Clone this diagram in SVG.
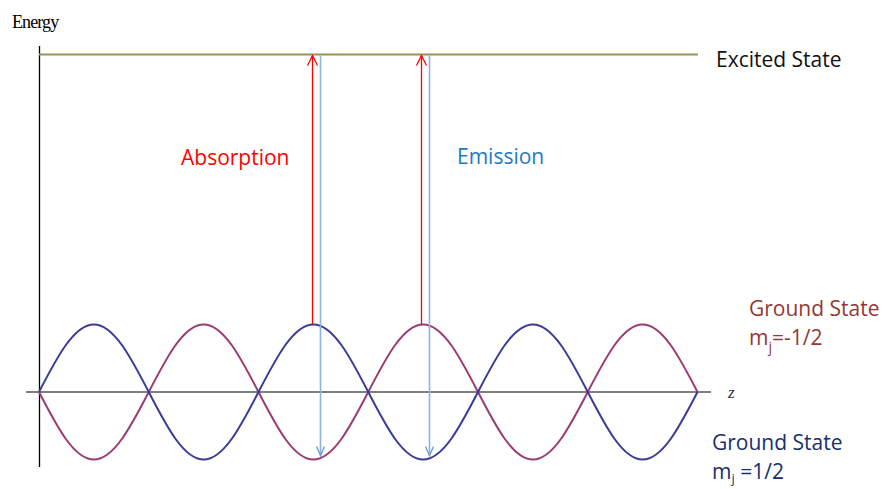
<svg xmlns="http://www.w3.org/2000/svg" width="886" height="489" viewBox="0 0 886 489">
<style>
.lbl{font-family:"Open Sans","Liberation Sans",sans-serif;font-size:21px}
.wave{fill:none;stroke-width:2}
.red{stroke:#ff0000;stroke-width:1.3;fill:none}
.blu{stroke:#8db3e2;stroke-width:1.6;fill:none}
</style>
<defs>
<marker id="hr" markerUnits="userSpaceOnUse" markerWidth="14" markerHeight="14" viewBox="-12 -7 14 14" refX="0" refY="0" orient="auto">
<path d="M-10,-5 L0,0 L-10,5" fill="none" stroke="#ff0000" stroke-width="1.3"/>
</marker>
<marker id="hb" markerUnits="userSpaceOnUse" markerWidth="14" markerHeight="14" viewBox="-12 -7 14 14" refX="0" refY="0" orient="auto">
<path d="M-9,-4 L0,0 L-9,4" fill="none" stroke="#6f9fd3" stroke-width="1.4"/>
</marker>
</defs>
<rect width="886" height="489" fill="#ffffff"/>
<g id="axes">
<line x1="39.5" y1="46" x2="39.5" y2="467" stroke="#000" stroke-width="1.3"/>
<line x1="26" y1="392" x2="711" y2="392" stroke="#555" stroke-width="1.5"/>
<text x="12" y="28" font-family="Liberation Serif,serif" font-size="18" letter-spacing="-0.9">Energy</text>
<text x="728" y="398" font-family="Liberation Serif,serif" font-style="italic" font-size="17" fill="#333">z</text>
</g>
<g id="excited">
<line x1="39" y1="54.5" x2="698" y2="54.5" stroke="#9c9150" stroke-width="2"/>
<text class="lbl" x="716" y="66.5" fill="#111" font-size="21.5">Excited State</text>
</g>
<g id="ground-minus">
<path class="wave" stroke="#9b3b72" d="M39,392 C56.89,426.57 74,459.5 93.875,459.5 S130.86,426.57 148.75,392 S183.75,324.5 203.625,324.5 S240.61,357.43 258.5,392 S293.5,459.5 313.375,459.5 S350.36,426.57 368.25,392 S403.25,324.5 423.125,324.5 S460.11,357.43 478,392 S513,459.5 532.875,459.5 S569.86,426.57 587.75,392 S622.75,324.5 642.625,324.5 S679.61,357.43 697.5,392"/>
<text class="lbl" x="749" y="316" fill="#953735">Ground State</text>
<text class="lbl" x="749" y="345" fill="#953735">m<tspan font-size="14" dy="7">j</tspan><tspan dy="-7">=-1/2</tspan></text>
</g>
<g id="ground-plus">
<path class="wave" stroke="#3b3b98" d="M39,392 C56.89,357.43 74,324.5 93.875,324.5 S130.86,357.43 148.75,392 S183.75,459.5 203.625,459.5 S240.61,426.57 258.5,392 S293.5,324.5 313.375,324.5 S350.36,357.43 368.25,392 S403.25,459.5 423.125,459.5 S460.11,426.57 478,392 S513,324.5 532.875,324.5 S569.86,357.43 587.75,392 S622.75,459.5 642.625,459.5 S679.61,426.57 697.5,392"/>
<text class="lbl" x="712" y="449.5" fill="#17306b">Ground State</text>
<text class="lbl" x="712" y="479" fill="#17306b">m<tspan font-size="13" dy="4">j</tspan><tspan dy="-4"> =1/2</tspan></text>
</g>
<g id="connectors">
<line class="red" x1="312.5" y1="324" x2="312.5" y2="55.5" marker-end="url(#hr)"/>
<line class="red" x1="421.5" y1="324" x2="421.5" y2="55.5" marker-end="url(#hr)"/>
<line class="blu" x1="320.5" y1="55.5" x2="320.5" y2="455.5" marker-end="url(#hb)"/>
<line class="blu" x1="429.5" y1="55.5" x2="429.5" y2="455.5" marker-end="url(#hb)"/>
<text class="lbl" x="181" y="165" fill="#ff0000">Absorption</text>
<text class="lbl" x="457" y="164" fill="#1f7ac4">Emission</text>
</g>
</svg>
